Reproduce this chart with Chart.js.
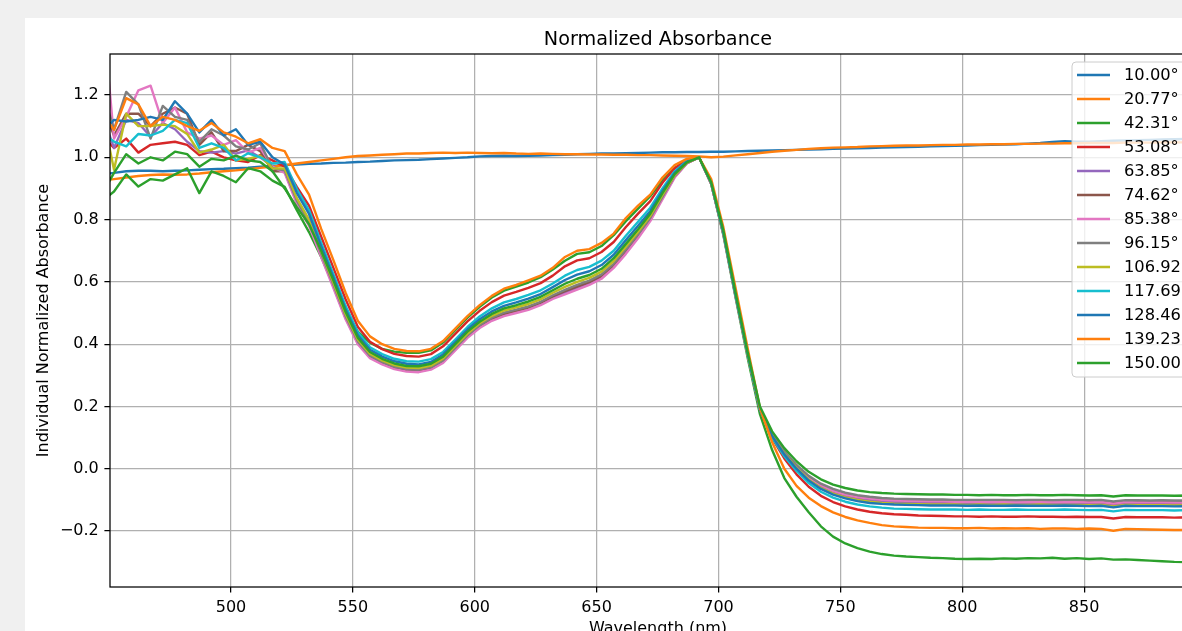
<!DOCTYPE html>
<html>
<head>
<meta charset="utf-8">
<title>Normalized Absorbance</title>
<script src="https://cdn.jsdelivr.net/npm/chart.js@4.4.0/dist/chart.umd.min.js"></script>
<style>
    html, body { margin: 0; padding: 0; overflow: hidden; background: #f0f0f0; }
    #figura { position: absolute; left: 25px; top: 18px; width: 1200px; height: 620px; background: #ffffff; }
</style>
</head>
<body>
<div id="figura"><canvas id="miGrafico" width="1200" height="620"></canvas></div>
<script>
// Longitudes de onda (nm)
var wavelengths = [447, 452, 457, 462, 467, 472, 477, 482, 487, 492, 497, 502, 507, 512, 517,
    522, 527, 532, 537, 542, 547, 552, 557, 562, 567, 572, 577, 582, 587, 592, 597, 602, 607, 612, 617,
    622, 627, 632, 637, 642, 647, 652, 657, 662, 667, 672, 677, 682, 687,
    692, 697, 702, 707, 712, 717, 722, 727, 732, 737, 742, 747, 752, 757, 762, 767, 772,
    777, 782, 787, 792, 797, 802, 807, 812, 817, 822, 827, 832, 837, 842, 847, 852, 857, 862, 867, 872,
    877, 882, 887, 892, 897, 902];

// Angulos de cada curva
var angles = [10.00, 20.77, 42.31, 53.08, 63.85, 74.62, 85.38, 96.15, 106.92, 117.69, 128.46, 139.23, 150.00];

var xTicks = [500, 550, 600, 650, 700, 750, 800, 850];
var yTicks = [-0.2, 0.0, 0.2, 0.4, 0.6, 0.8, 1.0, 1.2];

// Absorbancia normalizada por angulo
var deg10_00 = [0.945, 0.95, 0.955, 0.957, 0.957, 0.955, 0.957, 0.958, 0.96, 0.962, 0.963, 0.965, 0.967, 0.97, 0.972,
    0.975, 0.977, 0.979, 0.98, 0.982, 0.983, 0.985, 0.986, 0.988, 0.99, 0.991, 0.992, 0.994, 0.996, 0.998, 1.0, 1.003, 1.004, 1.005, 1.004, 1.005, 1.006, 1.007, 1.008, 1.01, 1.011, 1.012, 1.012, 1.013, 1.014, 1.015, 1.016, 1.016, 1.017,
    1.017, 1.018, 1.018, 1.019, 1.02, 1.021, 1.022, 1.023, 1.024, 1.025, 1.026, 1.027, 1.028, 1.029, 1.03, 1.031, 1.032,
    1.033, 1.034, 1.035, 1.036, 1.037, 1.038, 1.039, 1.04, 1.041, 1.042, 1.044, 1.046, 1.049, 1.052, 1.05, 1.05, 1.052, 1.053, 1.054, 1.055, 1.056, 1.057, 1.058, 1.059, 1.06, 1.061];
var deg20_77 = [0.925, 0.93, 0.935, 0.94, 0.943, 0.945, 0.944, 0.945, 0.948, 0.952, 0.955, 0.958, 0.962, 0.966, 0.97,
    0.975, 0.98, 0.985, 0.99, 0.995, 1.0, 1.004, 1.006, 1.008, 1.01, 1.012, 1.012, 1.014, 1.015, 1.014, 1.015, 1.014, 1.013, 1.014, 1.012, 1.011, 1.012, 1.011, 1.01, 1.01, 1.009, 1.009, 1.008, 1.008, 1.007, 1.007, 1.006, 1.005, 1.004,
    1.003, 1.0, 1.002, 1.006, 1.01, 1.014, 1.018, 1.021, 1.024, 1.027, 1.029, 1.031, 1.032, 1.033, 1.035, 1.036, 1.037,
    1.038, 1.038, 1.039, 1.04, 1.04, 1.041, 1.041, 1.042, 1.042, 1.043, 1.043, 1.044, 1.044, 1.045, 1.045, 1.046, 1.046, 1.046, 1.047, 1.047, 1.047, 1.048, 1.048, 1.048, 1.049, 1.049];
var deg42_31 = [0.86, 0.89, 0.945, 0.906, 0.93, 0.925, 0.945, 0.965, 0.885, 0.955, 0.94, 0.92, 0.965, 0.955, 0.925,
    0.905, 0.83, 0.76, 0.68, 0.59, 0.51, 0.44, 0.405, 0.385, 0.376, 0.372, 0.372, 0.38, 0.405, 0.445, 0.485, 0.52, 0.55, 0.572, 0.585, 0.598, 0.615, 0.64, 0.668, 0.69, 0.695, 0.715, 0.75, 0.795, 0.835, 0.875, 0.925, 0.965, 0.99,
    1.0, 0.915, 0.75, 0.55, 0.355, 0.175, 0.06, -0.03, -0.09, -0.14, -0.185, -0.218, -0.24, -0.255, -0.266, -0.274, -0.279,
    -0.282, -0.284, -0.286, -0.287, -0.289, -0.29, -0.289, -0.29, -0.288, -0.289, -0.287, -0.288, -0.286, -0.289, -0.287, -0.29, -0.288, -0.292, -0.291, -0.293, -0.295, -0.297, -0.299, -0.3, -0.294, -0.293];
var deg53_08 = [1.07, 1.03, 1.06, 1.015, 1.04, 1.045, 1.05, 1.04, 1.007, 1.018, 1.0, 0.99, 0.985, 1.007, 0.99,
    0.97, 0.905, 0.845, 0.745, 0.645, 0.544, 0.456, 0.408, 0.384, 0.369, 0.362, 0.36, 0.368, 0.393, 0.433, 0.473, 0.507, 0.535, 0.556, 0.568, 0.581, 0.596, 0.62, 0.65, 0.669, 0.676, 0.696, 0.728, 0.776, 0.819, 0.859, 0.918, 0.965, 0.991,
    1.0, 0.92, 0.76, 0.56, 0.37, 0.19, 0.098, 0.033, -0.018, -0.058, -0.087, -0.107, -0.121, -0.131, -0.138, -0.143, -0.146,
    -0.148, -0.15, -0.151, -0.152, -0.153, -0.153, -0.154, -0.153, -0.154, -0.154, -0.153, -0.154, -0.154, -0.155, -0.154, -0.155, -0.155, -0.16, -0.155, -0.156, -0.156, -0.156, -0.157, -0.156, -0.157, -0.157];
var deg63_85 = [1.14, 1.03, 1.12, 1.11, 1.066, 1.11, 1.09, 1.05, 1.02, 1.015, 1.02, 1.012, 1.022, 1.0, 0.97,
    0.954, 0.855, 0.785, 0.685, 0.585, 0.484, 0.404, 0.359, 0.338, 0.323, 0.315, 0.313, 0.321, 0.344, 0.384, 0.424, 0.456, 0.479, 0.494, 0.505, 0.515, 0.53, 0.55, 0.566, 0.581, 0.596, 0.616, 0.651, 0.696, 0.745, 0.799, 0.869, 0.937, 0.981,
    1.0, 0.915, 0.755, 0.555, 0.365, 0.19, 0.108, 0.05, 0.005, -0.032, -0.058, -0.076, -0.088, -0.096, -0.101, -0.105, -0.107,
    -0.108, -0.109, -0.11, -0.11, -0.11, -0.111, -0.11, -0.111, -0.11, -0.111, -0.11, -0.111, -0.111, -0.11, -0.111, -0.112, -0.111, -0.116, -0.111, -0.112, -0.112, -0.112, -0.113, -0.112, -0.113, -0.113];
var deg74_62 = [1.17, 1.07, 1.14, 1.14, 1.1, 1.14, 1.16, 1.14, 1.04, 1.08, 1.02, 1.02, 1.04, 1.02, 0.955,
    0.956, 0.858, 0.788, 0.687, 0.587, 0.487, 0.406, 0.361, 0.34, 0.325, 0.317, 0.315, 0.323, 0.346, 0.386, 0.426, 0.458, 0.481, 0.497, 0.507, 0.518, 0.533, 0.553, 0.57, 0.585, 0.599, 0.619, 0.654, 0.699, 0.748, 0.802, 0.871, 0.938, 0.981,
    1.0, 0.915, 0.755, 0.555, 0.365, 0.19, 0.11, 0.053, 0.009, -0.027, -0.052, -0.07, -0.082, -0.09, -0.095, -0.099, -0.101,
    -0.102, -0.103, -0.104, -0.104, -0.105, -0.105, -0.105, -0.106, -0.105, -0.106, -0.105, -0.106, -0.106, -0.105, -0.106, -0.107, -0.106, -0.111, -0.106, -0.107, -0.107, -0.107, -0.108, -0.107, -0.108, -0.108];
var deg85_38 = [1.5, 1.06, 1.13, 1.215, 1.23, 1.11, 1.16, 1.08, 1.06, 1.07, 1.04, 1.055, 1.015, 1.03, 0.97,
    0.95, 0.85, 0.78, 0.68, 0.58, 0.48, 0.40, 0.355, 0.335, 0.32, 0.312, 0.31, 0.318, 0.34, 0.38, 0.42, 0.452, 0.475, 0.49, 0.50, 0.51, 0.525, 0.545, 0.56, 0.575, 0.59, 0.61, 0.645, 0.69, 0.74, 0.795, 0.865, 0.935, 0.98,
    1.0, 0.915, 0.755, 0.555, 0.365, 0.19, 0.109, 0.052, 0.008, -0.028, -0.053, -0.071, -0.083, -0.091, -0.096, -0.1, -0.102,
    -0.103, -0.104, -0.105, -0.105, -0.106, -0.106, -0.106, -0.107, -0.106, -0.107, -0.106, -0.107, -0.107, -0.106, -0.107, -0.108, -0.107, -0.112, -0.107, -0.108, -0.108, -0.108, -0.109, -0.108, -0.109, -0.109];
var deg96_15 = [1.22, 1.09, 1.21, 1.17, 1.06, 1.165, 1.13, 1.12, 1.05, 1.09, 1.07, 1.035, 1.025, 1.045, 0.965,
    0.958, 0.861, 0.792, 0.691, 0.591, 0.49, 0.409, 0.363, 0.343, 0.328, 0.32, 0.318, 0.326, 0.348, 0.388, 0.428, 0.461, 0.485, 0.501, 0.511, 0.521, 0.536, 0.557, 0.574, 0.59, 0.604, 0.624, 0.658, 0.704, 0.753, 0.805, 0.873, 0.94, 0.982,
    1.0, 0.915, 0.755, 0.555, 0.365, 0.19, 0.112, 0.056, 0.012, -0.023, -0.048, -0.065, -0.077, -0.085, -0.09, -0.094, -0.096,
    -0.097, -0.098, -0.099, -0.099, -0.1, -0.1, -0.1, -0.1, -0.1, -0.101, -0.1, -0.1, -0.101, -0.1, -0.1, -0.101, -0.1, -0.105, -0.101, -0.101, -0.102, -0.101, -0.102, -0.102, -0.102, -0.102];
var deg106_92 = [1.15, 0.96, 1.14, 1.1, 1.1, 1.105, 1.1, 1.075, 1.015, 1.025, 1.04, 0.99, 0.995, 1.005, 0.965,
    0.964, 0.869, 0.80, 0.698, 0.598, 0.497, 0.415, 0.369, 0.348, 0.333, 0.325, 0.323, 0.331, 0.354, 0.394, 0.434, 0.467, 0.491, 0.508, 0.518, 0.529, 0.544, 0.565, 0.584, 0.60, 0.613, 0.633, 0.667, 0.713, 0.761, 0.812, 0.879, 0.943, 0.983,
    1.0, 0.918, 0.758, 0.558, 0.367, 0.19, 0.106, 0.048, 0.002, -0.035, -0.062, -0.08, -0.092, -0.1, -0.106, -0.11, -0.112,
    -0.113, -0.114, -0.115, -0.115, -0.115, -0.116, -0.115, -0.116, -0.115, -0.116, -0.116, -0.115, -0.116, -0.116, -0.116, -0.117, -0.116, -0.121, -0.116, -0.117, -0.117, -0.117, -0.118, -0.117, -0.118, -0.118];
var deg117_69 = [1.08, 1.05, 1.035, 1.075, 1.07, 1.085, 1.12, 1.11, 1.03, 1.045, 1.03, 0.99, 1.013, 1.0, 0.98,
    0.985, 0.898, 0.83, 0.725, 0.625, 0.523, 0.438, 0.39, 0.368, 0.353, 0.345, 0.344, 0.352, 0.375, 0.415, 0.455, 0.489, 0.515, 0.534, 0.545, 0.558, 0.573, 0.595, 0.62, 0.638, 0.648, 0.668, 0.70, 0.748, 0.793, 0.838, 0.90, 0.955, 0.988,
    1.0, 0.92, 0.76, 0.56, 0.37, 0.19, 0.10, 0.04, -0.007, -0.046, -0.074, -0.093, -0.106, -0.115, -0.121, -0.125, -0.128,
    -0.129, -0.13, -0.131, -0.131, -0.131, -0.132, -0.131, -0.132, -0.132, -0.131, -0.132, -0.132, -0.132, -0.131, -0.132, -0.133, -0.132, -0.137, -0.132, -0.133, -0.133, -0.133, -0.134, -0.133, -0.134, -0.134];
var deg128_46 = [1.08, 1.12, 1.115, 1.12, 1.13, 1.12, 1.18, 1.14, 1.08, 1.12, 1.07, 1.09, 1.04, 1.05, 1.0,
    0.977, 0.886, 0.818, 0.714, 0.614, 0.512, 0.429, 0.382, 0.36, 0.345, 0.337, 0.335, 0.343, 0.367, 0.407, 0.447, 0.48, 0.505, 0.523, 0.534, 0.546, 0.561, 0.583, 0.606, 0.623, 0.634, 0.654, 0.687, 0.734, 0.78, 0.827, 0.892, 0.95, 0.986,
    1.0, 0.92, 0.76, 0.56, 0.37, 0.19, 0.105, 0.046, 0.0, -0.038, -0.065, -0.083, -0.095, -0.104, -0.11, -0.113, -0.115,
    -0.116, -0.117, -0.118, -0.118, -0.118, -0.119, -0.118, -0.119, -0.119, -0.118, -0.119, -0.119, -0.119, -0.118, -0.119, -0.12, -0.119, -0.124, -0.119, -0.12, -0.12, -0.12, -0.121, -0.12, -0.121, -0.121];
var deg139_23 = [1.14, 1.088, 1.19, 1.17, 1.1, 1.13, 1.12, 1.1, 1.085, 1.11, 1.08, 1.066, 1.045, 1.058, 1.03,
    1.02, 0.945, 0.88, 0.77, 0.67, 0.565, 0.475, 0.425, 0.40, 0.385, 0.378, 0.377, 0.385, 0.41, 0.45, 0.49, 0.525, 0.555, 0.578, 0.59, 0.605, 0.62, 0.645, 0.68, 0.70, 0.705, 0.725, 0.755, 0.805, 0.845, 0.88, 0.935, 0.975, 0.995,
    1.0, 0.93, 0.775, 0.58, 0.385, 0.195, 0.085, 0.0, -0.055, -0.093, -0.12, -0.14, -0.155, -0.166, -0.174, -0.181, -0.185,
    -0.187, -0.189, -0.19, -0.19, -0.191, -0.191, -0.19, -0.192, -0.191, -0.192, -0.191, -0.193, -0.192, -0.192, -0.193, -0.192, -0.193, -0.199, -0.193, -0.194, -0.195, -0.196, -0.197, -0.197, -0.196, -0.196];
var deg150_00 = [0.88, 0.95, 1.01, 0.98, 1.0, 0.99, 1.018, 1.01, 0.97, 0.995, 0.99, 1.005, 0.99, 0.985, 0.955,
    0.9, 0.84, 0.785, 0.7, 0.605, 0.504, 0.421, 0.375, 0.353, 0.338, 0.33, 0.329, 0.337, 0.36, 0.40, 0.44, 0.472, 0.497, 0.515, 0.525, 0.537, 0.552, 0.573, 0.594, 0.61, 0.622, 0.642, 0.676, 0.722, 0.769, 0.819, 0.885, 0.946, 0.984,
    1.0, 0.92, 0.765, 0.565, 0.372, 0.2, 0.12, 0.066, 0.024, -0.01, -0.034, -0.051, -0.062, -0.07, -0.075, -0.078, -0.08,
    -0.081, -0.082, -0.083, -0.083, -0.084, -0.084, -0.085, -0.084, -0.085, -0.085, -0.084, -0.085, -0.085, -0.084, -0.085, -0.086, -0.085, -0.089, -0.085, -0.086, -0.086, -0.086, -0.087, -0.086, -0.087, -0.087];

var series = [deg10_00, deg20_77, deg42_31, deg53_08, deg63_85, deg74_62, deg85_38,
    deg96_15, deg106_92, deg117_69, deg128_46, deg139_23, deg150_00];

// Colores tab10 de matplotlib
var colores = ["#1f77b4", "#ff7f0e", "#2ca02c", "#d62728", "#9467bd", "#8c564b", "#e377c2",
    "#7f7f7f", "#bcbd22", "#17becf", "#1f77b4", "#ff7f0e", "#2ca02c"];

var fuente = "'DejaVu Sans', sans-serif";
Chart.defaults.font.family = fuente;
Chart.defaults.color = "#000000";

// Marco, titulo y leyenda dibujados encima de las curvas
var marco = {
    id: "marco",
    afterDatasetsDraw: function (chart) {
        var ctx = chart.ctx;
        var a = chart.chartArea;
        ctx.save();
        ctx.strokeStyle = "#000000";
        ctx.lineWidth = 1.25;
        ctx.strokeRect(a.left, a.top, a.right - a.left, a.bottom - a.top);

        ctx.fillStyle = "#000000";
        ctx.font = "19.2px " + fuente;
        ctx.textAlign = "center";
        ctx.textBaseline = "alphabetic";
        ctx.fillText("Normalized Absorbance", (a.left + a.right) / 2, a.top - 9.5);

        // leyenda
        var lx = a.right - 134, ly = a.top + 8, lw = 127, lh = 315, r = 4;
        ctx.beginPath();
        ctx.moveTo(lx + r, ly);
        ctx.lineTo(lx + lw - r, ly);
        ctx.arcTo(lx + lw, ly, lx + lw, ly + r, r);
        ctx.lineTo(lx + lw, ly + lh - r);
        ctx.arcTo(lx + lw, ly + lh, lx + lw - r, ly + lh, r);
        ctx.lineTo(lx + r, ly + lh);
        ctx.arcTo(lx, ly + lh, lx, ly + lh - r, r);
        ctx.lineTo(lx, ly + r);
        ctx.arcTo(lx, ly, lx + r, ly, r);
        ctx.closePath();
        ctx.fillStyle = "rgba(255,255,255,0.8)";
        ctx.fill();
        ctx.strokeStyle = "#cccccc";
        ctx.lineWidth = 1;
        ctx.stroke();

        ctx.font = "16.3px " + fuente;
        ctx.textAlign = "left";
        ctx.textBaseline = "middle";
        chart.data.datasets.forEach(function (ds, i) {
            var y = ly + 13 + i * 24;
            ctx.strokeStyle = ds.borderColor;
            ctx.lineWidth = 2.4;
            ctx.beginPath();
            ctx.moveTo(lx + 5, y);
            ctx.lineTo(lx + 38, y);
            ctx.stroke();
            ctx.fillStyle = "#000000";
            ctx.fillText(ds.label, lx + 52, y + 1);
        });
        ctx.restore();
    }
};

var datasets = series.map(function (valores, i) {
    return {
        label: angles[i].toFixed(2) + "°",
        data: valores.map(function (v, j) { return { x: wavelengths[j], y: v }; }),
        borderColor: colores[i],
        backgroundColor: colores[i],
        borderWidth: 2.4,
        borderJoinStyle: "round",
        pointRadius: 0,
        fill: false,
        tension: 0,
        order: series.length - i
    };
});

var ctx = document.getElementById("miGrafico").getContext("2d");
var myChart = new Chart(ctx, {
    type: "line",
    data: { datasets: datasets },
    plugins: [marco],
    options: {
        responsive: false,
        devicePixelRatio: 1,
        animation: false,
        layout: { padding: { top: 36, right: 19, left: 0, bottom: 0 } },
        plugins: {
            legend: { display: false },
            tooltip: { enabled: false },
            title: { display: false }
        },
        scales: {
            x: {
                type: "linear",
                min: 450.35,
                max: 900,
                afterBuildTicks: function (scale) {
                    scale.ticks = xTicks.map(function (v) { return { value: v }; });
                },
                afterFit: function (scale) { scale.height = 51; },
                ticks: {
                    font: { size: 16 },
                    color: "#000000",
                    padding: 6,
                    maxRotation: 0,
                    callback: function (v) { return String(v); }
                },
                grid: { color: "#b0b0b0", lineWidth: 1.25, tickColor: "#000000", tickLength: 5.6, tickWidth: 1.25 },
                border: { display: false },
                title: { display: true, text: "Wavelength (nm)", font: { size: 16 }, color: "#000000", padding: { top: 0, bottom: 0 } }
            },
            y: {
                type: "linear",
                min: -0.3798,
                max: 1.3317,
                afterBuildTicks: function (scale) {
                    scale.ticks = yTicks.map(function (v) { return { value: v }; });
                },
                afterFit: function (scale) { scale.width = 85; },
                ticks: {
                    font: { size: 16 },
                    color: "#000000",
                    padding: 5.6,
                    callback: function (v) {
                        return v < 0 ? "\u2212" + Math.abs(v).toFixed(1) : v.toFixed(1);
                    }
                },
                grid: { color: "#b0b0b0", lineWidth: 1.25, tickColor: "#000000", tickLength: 5.6, tickWidth: 1.25 },
                border: { display: false },
                title: { display: true, text: "Individual Normalized Absorbance", font: { size: 16 }, color: "#000000", padding: { top: 9.4, bottom: 0 } }
            }
        }
    }
});
</script>
</body>
</html>
